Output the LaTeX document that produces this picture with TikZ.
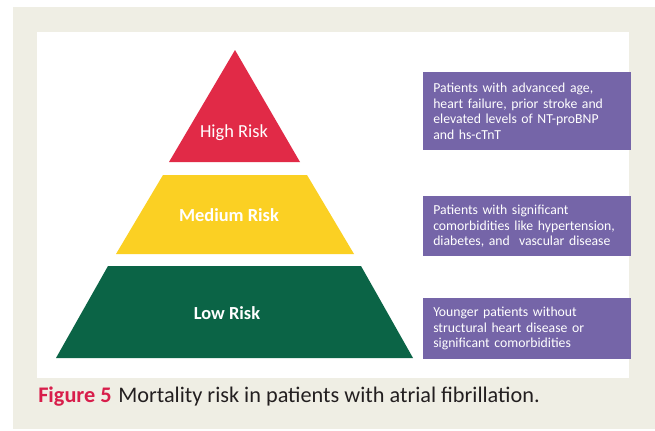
\documentclass[tikz,border=0pt]{standalone}
\usepackage{fontspec}
\setmainfont{Carlito}
\usetikzlibrary{positioning}
\definecolor{frpage}{HTML}{EFEEE4}
\definecolor{frhigh}{HTML}{E12A47}
\definecolor{frmedium}{HTML}{FBD023}
\definecolor{frlow}{HTML}{0B6446}
\definecolor{frpurple}{HTML}{7565A8}
\definecolor{frcaption}{HTML}{D81E4B}
\definecolor{frink}{HTML}{231F20}
\tikzset{
  tierlabel/.style={text=white,inner sep=0pt,font=\fontsize{13.8}{16}\selectfont},
  riskbox/.style={fill=frpurple,text=white,anchor=north west,align=left,
    text width=141pt,inner xsep=7.5pt,inner ysep=0pt,
    font=\fontsize{10.3}{11.6}\selectfont},
}

\begin{document}
\begin{tikzpicture}[x=0.75pt,y=-0.75pt]
  \useasboundingbox[fill=white] (0,0) rectangle (655,430);
  \fill[frpage] (13,7) rectangle (655,429);
  \fill[white] (37,32) rectangle (629,378);
  % pyramid
  \fill[frhigh] (235,50) -- (300,162) -- (169,162) -- cycle;
  \fill[frmedium] (163,175) -- (307,175) -- (354,254) -- (116,254) -- cycle;
  \fill[frlow] (108,266) -- (361,266) -- (413,358) -- (56,358) -- cycle;
  \node[tierlabel] (high) at (234,133) {High Risk};
  \node[tierlabel,font=\fontsize{13.8}{16}\selectfont\bfseries] (medium) at (229,215) {Medium Risk};
  \node[tierlabel,font=\fontsize{13.8}{16}\selectfont\bfseries] (low) at (227,313) {Low Risk};
  % patient groups
  \node[riskbox,minimum height=58.5pt] (highbox) at (423,72)
    {Patients with advanced age,\\heart failure, prior stroke and\\elevated levels of NT-proBNP\\and hs-cTnT};
  \node[riskbox,minimum height=45pt] (mediumbox) at (423,196)
    {Patients with significant\\comorbidities like hypertension,\\diabetes, and~ vascular disease};
  \node[riskbox,minimum height=45.75pt] (lowbox) at (423,298)
    {Younger patients without\\structural heart disease or\\significant comorbidities};
  % caption
  \node[anchor=base west,inner sep=0pt,text=frink,font=\fontsize{16.7}{19}\selectfont] (caption) at (38,402)
    {\textcolor{frcaption}{\bfseries Figure 5}\hspace{5pt}Mortality risk in patients with atrial fibrillation.};
\end{tikzpicture}
\end{document}
